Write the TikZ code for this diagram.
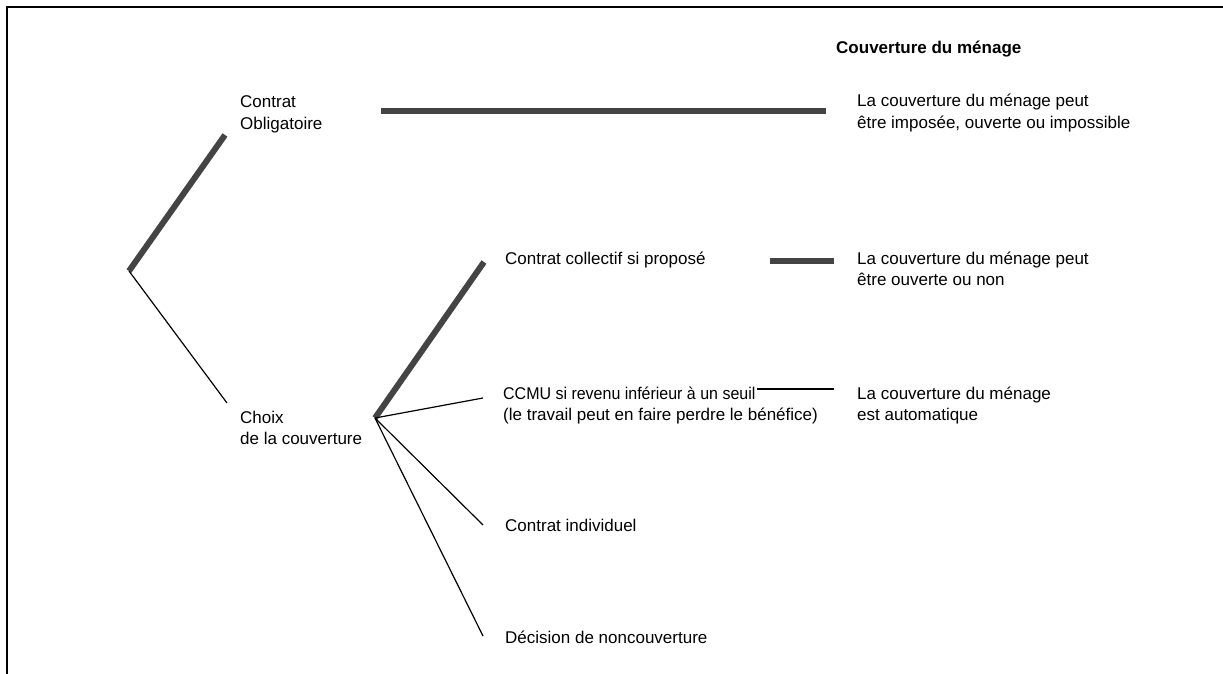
\documentclass[tikz,border=0pt]{standalone}
\usepackage{fontspec}
\usepackage{graphicx}
\setmainfont{Liberation Sans}
\newcommand\twolines[2]{\vtop{\hbox{#1}\hbox{#2}}}
\definecolor{thickgray}{HTML}{444444}
\begin{document}
\begin{tikzpicture}[x=1pt,y=-1pt,
  txt/.style={anchor=base west,inner sep=0pt,font=\fontsize{17}{21}\selectfont},
  thickline/.style={draw=thickgray,line width=6pt},
  thinline/.style={draw=black,line width=1.2pt},
  frame/.style={draw=black,line width=2pt}]
\useasboundingbox (0,0) rectangle (1223,674);
% frame
\coordinate (f1) at (7,674);
\coordinate (f2) at (7,7);
\coordinate (f3) at (1223,7);
\draw[frame] (f1) -- (f2) -- (f3);
% texts
\node[txt,font=\fontsize{17}{21}\selectfont\bfseries] (title) at (836,54) {Couverture du ménage};
\node[txt] (oblig) at (240,108) {\twolines{Contrat}{Obligatoire}};
\node[txt] (r1) at (857,107) {\twolines{La couverture du ménage peut}{être imposée, ouverte ou impossible}};
\node[txt] (choix) at (240,423) {\twolines{Choix}{de la couverture}};
\node[txt] (coll) at (505,264) {Contrat collectif si proposé};
\node[txt] (r2) at (857,264) {\twolines{La couverture du ménage peut}{être ouverte ou non}};
\node[txt] (ccmu) at (503,399) {\twolines{\scalebox{0.94}[1]{CCMU si revenu inférieur à un seuil}}{(le travail peut en faire perdre le bénéfice)}};
\node[txt] (r3) at (857,399) {\twolines{La couverture du ménage}{est automatique}};
\node[txt] (indiv) at (505,531) {Contrat individuel};
\node[txt] (nonc) at (505,643) {Décision de noncouverture};
% branch points
\coordinate (root) at (129,271);
\coordinate (cp) at (375,418);
\coordinate (obE) at (225,135);
\coordinate (chE) at (227,403);
\coordinate (collE) at (484,262);
\coordinate (ccmuE) at (483,398);
\coordinate (indE) at (483,525);
\coordinate (noncE) at (483,636);
\coordinate (h1a) at (381,111);
\coordinate (h1b) at (826,111);
\coordinate (h2a) at (770,261);
\coordinate (h2b) at (834,261);
\coordinate (h3a) at (757,389);
\coordinate (h3b) at (834,389);
% connectors
\draw[thickline] (root) -- (obE);
\draw[thinline] (root) -- (chE);
\draw[thickline] (cp) -- (collE);
\draw[thinline] (cp) -- (ccmuE);
\draw[thinline] (cp) -- (indE);
\draw[thinline] (cp) -- (noncE);
\draw[thickline] (h1a) -- (h1b);
\draw[thickline] (h2a) -- (h2b);
\draw[thinline] (h3a) -- (h3b);
\end{tikzpicture}
\end{document}
